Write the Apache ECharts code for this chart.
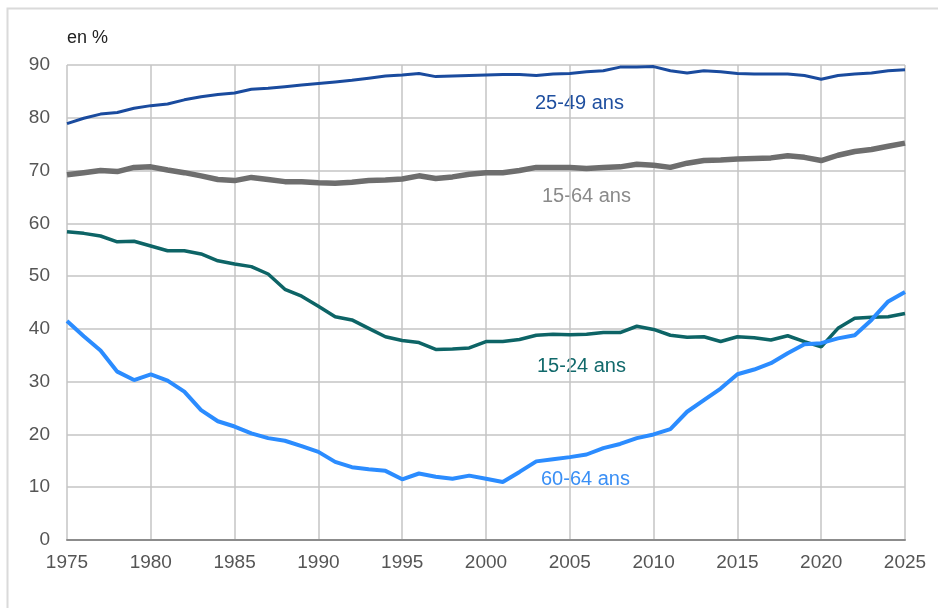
<!DOCTYPE html>
<html>
<head>
<meta charset="utf-8">
<script src="https://cdn.jsdelivr.net/npm/echarts@6/dist/echarts.min.js"></script>
<style>
  html, body { margin: 0; padding: 0; background: #fff; }
  #chart { width: 938px; height: 608px; }
</style>
</head>
<body>
<div id="chart"></div>
<script>
// années 1975 -> 2025
const years = [];
for (let y = 1975; y <= 2025; y++) years.push(y);

const xTicks = [1975, 1980, 1985, 1990, 1995, 2000, 2005, 2010, 2015, 2020, 2025];
const yTicks = [0, 10, 20, 30, 40, 50, 60, 70, 80, 90];

const ans25_49 = [
  78.9, 79.9, 80.7, 81.0, 81.8, 82.3, 82.6, 83.4, 84.0, 84.4,
  84.7, 85.4, 85.6, 85.9, 86.2, 86.5, 86.8, 87.1, 87.5, 87.9,
  88.1, 88.4, 87.8, 87.9, 88.0, 88.1, 88.2, 88.2, 88.0, 88.3,
  88.4, 88.7, 88.9, 89.6, 89.6, 89.7, 88.9, 88.5, 88.9, 88.7,
  88.4, 88.3, 88.3, 88.3, 88.0, 87.3, 88.0, 88.3, 88.5, 88.9,
  89.1
];
const ans15_64 = [
  69.2, 69.6, 70.0, 69.8, 70.6, 70.7, 70.1, 69.6, 69.0, 68.3,
  68.1, 68.7, 68.3, 67.9, 67.9, 67.7, 67.6, 67.8, 68.1, 68.2,
  68.4, 69.0, 68.5, 68.8, 69.3, 69.6, 69.6, 70.0, 70.6, 70.6,
  70.6, 70.4, 70.6, 70.7, 71.2, 71.0, 70.6, 71.4, 71.9, 72.0,
  72.2, 72.3, 72.4, 72.8, 72.5, 71.9, 72.9, 73.6, 74.0, 74.6,
  75.2
];
const ans15_24 = [
  58.4, 58.1, 57.6, 56.5, 56.6, 55.7, 54.8, 54.8, 54.2, 52.9,
  52.3, 51.8, 50.4, 47.5, 46.2, 44.3, 42.3, 41.7, 40.1, 38.5,
  37.8, 37.4, 36.1, 36.2, 36.4, 37.6, 37.6, 38.0, 38.8, 39.0,
  38.9, 39.0, 39.3, 39.3, 40.5, 39.9, 38.8, 38.4, 38.5, 37.6,
  38.5, 38.3, 37.9, 38.7, 37.6, 36.6, 40.1, 42.0, 42.2, 42.3,
  42.9
];
const ans60_64 = [
  41.5, 38.6, 35.9, 31.9, 30.3, 31.4, 30.2, 28.1, 24.6, 22.5,
  21.5, 20.2, 19.3, 18.8, 17.8, 16.7, 14.8, 13.8, 13.4, 13.1,
  11.5, 12.6, 12.0, 11.6, 12.2, 11.6, 11.0, 12.9, 14.9, 15.3,
  15.7, 16.2, 17.4, 18.2, 19.3, 20.0, 21.0, 24.3, 26.5, 28.7,
  31.4, 32.3, 33.5, 35.4, 37.1, 37.3, 38.2, 38.8, 41.7, 45.2,
  47.0
];

const pairs = arr => years.map((y, i) => [y, arr[i]]);

const chart = echarts.init(document.getElementById('chart'));

const FONT = 'Liberation Sans, Arial, sans-serif';

chart.setOption({
  animation: false,
  backgroundColor: '#fff',
  textStyle: { fontFamily: FONT },
  grid: { left: 67, right: 33, top: 65, bottom: 68 },
  xAxis: {
    type: 'value',
    min: xTicks[0],
    max: xTicks[xTicks.length - 1],
    interval: 5,
    axisLine: { show: true, lineStyle: { color: '#8c8c8c', width: 2 } },
    axisTick: { show: false },
    axisLabel: {
      color: '#555', fontSize: 19, margin: 13,
      formatter: v => String(v)
    },
    splitLine: { show: true, lineStyle: { color: '#c4c4c4', width: 1.5 } }
  },
  yAxis: {
    type: 'value',
    min: yTicks[0],
    max: yTicks[yTicks.length - 1],
    interval: 10,
    axisLine: { show: false },
    axisTick: { show: false },
    axisLabel: { color: '#555', fontSize: 19, margin: 17 },
    splitLine: { show: true, lineStyle: { color: '#c4c4c4', width: 1.5 } }
  },
  series: [
    {
      name: '15-64 ans', type: 'line', data: pairs(ans15_64),
      symbol: 'none', lineStyle: { color: '#6e6e6e', width: 5.5 }
    },
    {
      name: '25-49 ans', type: 'line', data: pairs(ans25_49),
      symbol: 'none', lineStyle: { color: '#1a4b9e', width: 3 }
    },
    {
      name: '15-24 ans', type: 'line', data: pairs(ans15_24),
      symbol: 'none', lineStyle: { color: '#0d6466', width: 3.5 }
    },
    {
      name: '60-64 ans', type: 'line', data: pairs(ans60_64),
      symbol: 'none', lineStyle: { color: '#2b8cff', width: 4 }
    }
  ],
  graphic: [
    {
      type: 'rect', silent: true, z: -1,
      shape: { x: 7.5, y: 8.5, width: 940, height: 620 },
      style: { fill: 'none', stroke: '#dadada', lineWidth: 2 }
    },
    {
      type: 'text', left: 67, top: 29,
      style: { text: 'en %', fill: '#222', font: '18px ' + FONT }
    },
    {
      type: 'text', left: 535, top: 93,
      style: { text: '25-49 ans', fill: '#1f4f9f', font: '20px ' + FONT }
    },
    {
      type: 'text', left: 542, top: 186,
      style: { text: '15-64 ans', fill: '#8a8a8a', font: '20px ' + FONT }
    },
    {
      type: 'text', left: 537, top: 356,
      style: { text: '15-24 ans', fill: '#11696b', font: '20px ' + FONT }
    },
    {
      type: 'text', left: 541, top: 469,
      style: { text: '60-64 ans', fill: '#3a8ff5', font: '20px ' + FONT }
    }
  ]
});
</script>
</body>
</html>
